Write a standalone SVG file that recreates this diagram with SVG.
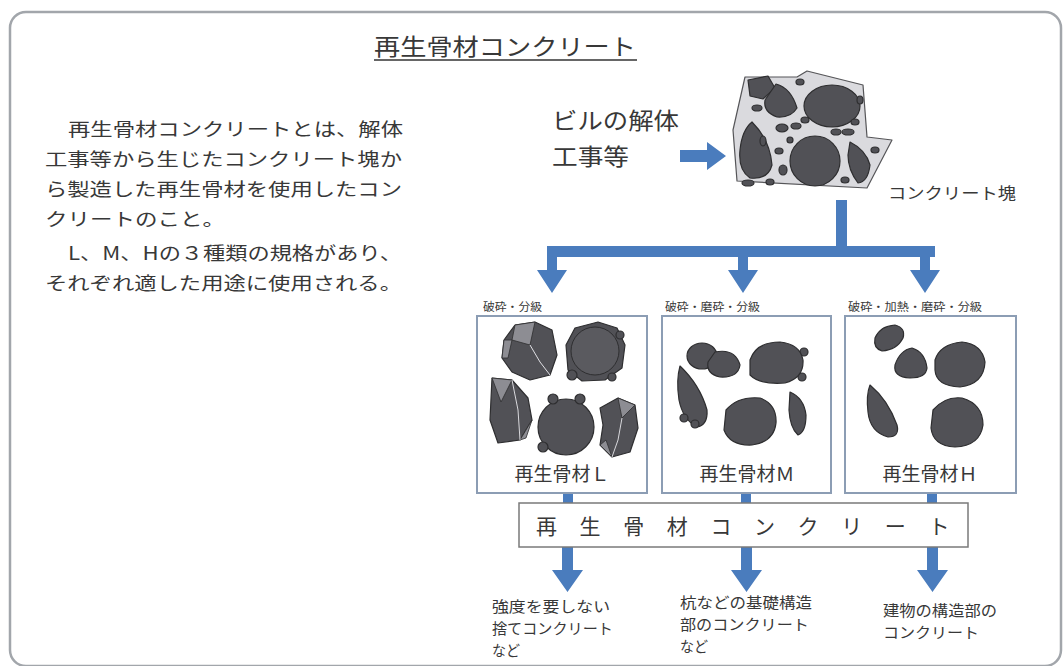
<svg xmlns="http://www.w3.org/2000/svg" width="1064" height="666" viewBox="0 0 1064 666">
  <defs>
    <style>
      .jp { font-family: "Noto Sans CJK JP", "Noto Sans CJK SC", sans-serif; fill: #383838; }
      .frame { fill: #ffffff; stroke: #a2a6ab; stroke-width: 2.5; }
      .gbox { fill: #ffffff; stroke: #8c9db4; stroke-width: 2; }
      .cbox { fill: #ffffff; stroke: #7a7a7a; stroke-width: 1.5; }
      .flow { fill: #4a7cbd; }
      .rock { fill: #515156; stroke: #2e2e30; stroke-width: 1.2; stroke-linejoin: round; }
      .facet { fill: #8d8d93; stroke: #2e2e30; stroke-width: 0.8; }
      .lump { fill: #dadade; stroke: #555558; stroke-width: 1.2; stroke-linejoin: round; }
    </style>
  </defs>

  <!-- outer frame -->
  <rect class="frame" x="10" y="12" width="1051" height="654" rx="16"/>

  <!-- title -->
  <g id="title">
    <text class="jp" x="374" y="55" font-size="23" textLength="262" lengthAdjust="spacingAndGlyphs">再生骨材コンクリート</text>
    <line x1="374" y1="60" x2="637" y2="60" stroke="#333" stroke-width="1.5"/>
  </g>

  <!-- explanation -->
  <g id="description" font-size="18">
    <text class="jp" x="68" y="136" textLength="335" lengthAdjust="spacingAndGlyphs">再生骨材コンクリートとは、解体</text>
    <text class="jp" x="45" y="166" textLength="357" lengthAdjust="spacingAndGlyphs">工事等から生じたコンクリート塊か</text>
    <text class="jp" x="45" y="196" textLength="357" lengthAdjust="spacingAndGlyphs">ら製造した再生骨材を使用したコン</text>
    <text class="jp" x="45" y="226" textLength="180" lengthAdjust="spacingAndGlyphs">クリートのこと。</text>
    <text class="jp" x="68" y="260" textLength="334" lengthAdjust="spacingAndGlyphs">L、M、Hの３種類の規格があり、</text>
    <text class="jp" x="45" y="290" textLength="357" lengthAdjust="spacingAndGlyphs">それぞれ適した用途に使用される。</text>
  </g>

  <!-- source -->
  <g id="source" font-size="23">
    <text class="jp" x="552" y="129" textLength="127" lengthAdjust="spacingAndGlyphs">ビルの解体</text>
    <text class="jp" x="552" y="165" textLength="77" lengthAdjust="spacingAndGlyphs">工事等</text>
  </g>

  <!-- concrete lump -->
  <g id="lump">
    <polygon class="lump" points="745,77 797,77 807,71 863,85 867,137 892,140 867,188 737,181 733,130"/>
    <path class="rock" d="M748,80 L768,76 L775,88 L763,99 L750,96 Z"/>
    <path class="rock" d="M776,84 Q791,88 797,108 Q791,118 777,117 Q763,112 765,100 Z"/>
    <ellipse class="rock" cx="832" cy="106" rx="28" ry="21"/>
    <path class="rock" d="M752,122 Q770,140 772,165 Q768,180 750,178 Q738,170 740,150 Q742,130 752,122 Z"/>
    <circle class="rock" cx="815" cy="161" r="25"/>
    <path class="rock" d="M850,142 Q866,150 870,165 Q868,182 858,183 Q848,170 848,155 Z"/>
    <ellipse class="rock" cx="782" cy="128" rx="6" ry="4"/>
    <ellipse class="rock" cx="796" cy="126" rx="5" ry="3"/>
    <ellipse class="rock" cx="763" cy="141" rx="3" ry="5"/>
    <ellipse class="rock" cx="779" cy="151" rx="4" ry="3"/>
    <ellipse class="rock" cx="783" cy="170" rx="4" ry="5"/>
    <ellipse class="rock" cx="757" cy="108" rx="5" ry="3"/>
    <ellipse class="rock" cx="800" cy="82" rx="4" ry="3"/>
    <ellipse class="rock" cx="860" cy="100" rx="3" ry="4"/>
    <ellipse class="rock" cx="848" cy="132" rx="6" ry="3"/>
    <ellipse class="rock" cx="836" cy="132" rx="5" ry="3"/>
    <ellipse class="rock" cx="855" cy="122" rx="4" ry="3"/>
    <ellipse class="rock" cx="875" cy="150" rx="4" ry="3"/>
    <ellipse class="rock" cx="845" cy="180" rx="4" ry="3"/>
    <ellipse class="rock" cx="748" cy="183" rx="6" ry="3"/>
    <ellipse class="rock" cx="770" cy="182" rx="4" ry="3"/>
    <ellipse class="rock" cx="805" cy="120" rx="4" ry="3"/>
    <ellipse class="rock" cx="790" cy="140" rx="3" ry="3"/>
  </g>
  <text id="lump-label" class="jp" x="888" y="199" font-size="16" textLength="128" lengthAdjust="spacingAndGlyphs">コンクリート塊</text>

  <!-- blue flow connectors -->
  <g id="connectors" class="flow">
    <!-- source to lump -->
    <polygon points="680,150 707,150 707,142 726,156 707,170 707,162 680,162"/>
    <!-- lump to the three grades -->
    <rect x="836" y="200" width="11" height="57"/>
    <rect x="547" y="246" width="388" height="11"/>
    <polygon points="547,257 557,257 557,270 567,270 552,293 537,270 547,270"/>
    <polygon points="738,257 748,257 748,270 758,270 743,293 728,270 738,270"/>
    <polygon points="920,257 930,257 930,270 940,270 925,293 910,270 920,270"/>
    <!-- grades to recycled concrete -->
    <rect x="563" y="492" width="10" height="12"/>
    <rect x="741" y="492" width="10" height="12"/>
    <rect x="927" y="492" width="10" height="12"/>
    <!-- recycled concrete to uses -->
    <polygon points="562,547 573,547 573,570 583,570 567.5,592 552,570 562,570"/>
    <polygon points="741,547 752,547 752,570 762,570 746.5,592 731,570 741,570"/>
    <polygon points="927,547 938,547 938,570 948,570 932.5,592 917,570 927,570"/>
  </g>

  <!-- grade L -->
  <g id="grade-l">
    <text class="jp" x="483" y="311" font-size="11" textLength="59" lengthAdjust="spacingAndGlyphs">破砕・分級</text>
    <rect class="gbox" x="477" y="316" width="170" height="177"/>
    <polygon class="rock" points="504,340 515,325 535,322 552,330 557,355 550,375 530,380 512,372 502,358"/>
    <polygon class="facet" points="515,325 535,322 530,345 512,340"/>
    <polygon class="facet" points="504,340 512,340 508,358 502,358"/>
    <polyline points="530,345 540,362 550,375" fill="none" stroke="#e0e0e4" stroke-width="1"/>
    <polygon class="rock" points="566,345 575,328 598,322 617,328 625,345 622,368 605,380 582,381 568,370"/>
    <circle cx="595" cy="351" r="24" fill="#5a5a5f" stroke="#2e2e30" stroke-width="1"/>
    <circle class="rock" cx="620" cy="335" r="4"/>
    <circle class="rock" cx="572" cy="375" r="5"/>
    <circle class="rock" cx="612" cy="377" r="4"/>
    <polygon class="rock" points="492,378 512,380 528,398 532,420 520,440 498,443 490,420"/>
    <polygon class="facet" points="492,378 512,380 501,402"/>
    <polygon class="facet" points="520,440 532,420 526,438"/>
    <polyline points="512,380 518,410 520,440" fill="none" stroke="#d8d8dc" stroke-width="1"/>
    <circle class="rock" cx="566" cy="427" r="28"/>
    <circle class="rock" cx="553" cy="399" r="5"/>
    <circle class="rock" cx="580" cy="399" r="5"/>
    <circle class="rock" cx="543" cy="447" r="5"/>
    <polygon class="rock" points="600,408 618,398 635,405 638,428 630,452 612,457 600,445 603,425"/>
    <polygon class="facet" points="618,398 635,405 622,418"/>
    <polygon class="facet" points="600,445 612,457 606,440"/>
    <polyline points="622,418 618,440 612,457" fill="none" stroke="#d8d8dc" stroke-width="1"/>
    <text class="jp" x="562" y="481" font-size="19" text-anchor="middle">再生骨材Ｌ</text>
  </g>

  <!-- grade M -->
  <g id="grade-m">
    <text class="jp" x="665" y="311" font-size="11" textLength="95" lengthAdjust="spacingAndGlyphs">破砕・磨砕・分級</text>
    <rect class="gbox" x="662" y="316" width="169" height="177"/>
    <ellipse class="rock" cx="702" cy="356" rx="15" ry="13"/>
    <path class="rock" d="M715,352 Q735,348 740,365 Q738,378 720,377 Q706,374 708,362 Z"/>
    <circle class="rock" cx="804" cy="352" r="4"/>
    <circle class="rock" cx="802" cy="377" r="4"/>
    <path class="rock" d="M750,360 Q756,342 780,342 Q800,344 803,360 Q804,378 785,383 Q760,385 750,375 Z"/>
    <path class="rock" d="M680,366 Q700,385 707,410 Q708,425 697,427 Q683,420 679,400 Q676,380 680,366 Z"/>
    <circle class="rock" cx="684" cy="418" r="4"/>
    <circle class="rock" cx="695" cy="424" r="4"/>
    <path class="rock" d="M726,410 Q738,396 760,398 Q777,404 776,423 Q774,442 752,445 Q730,446 724,430 Z"/>
    <path class="rock" d="M790,392 Q804,398 806,415 Q806,432 798,435 Q790,428 789,410 Z"/>
    <text class="jp" x="747" y="481" font-size="19" text-anchor="middle">再生骨材Ｍ</text>
  </g>

  <!-- grade H -->
  <g id="grade-h">
    <text class="jp" x="848" y="311" font-size="11" textLength="134" lengthAdjust="spacingAndGlyphs">破砕・加熱・磨砕・分級</text>
    <rect class="gbox" x="845" y="316" width="171" height="177"/>
    <path class="rock" d="M875,338 Q880,326 895,325 Q906,328 903,338 Q897,350 882,351 Q873,348 875,338 Z"/>
    <path class="rock" d="M895,365 Q900,350 912,348 Q925,352 927,368 Q926,378 910,378 Q893,377 895,365 Z"/>
    <path class="rock" d="M935,360 Q940,344 962,342 Q982,344 985,362 Q984,384 960,387 Q936,386 935,370 Z"/>
    <path class="rock" d="M870,385 Q888,400 897,425 Q900,437 888,437 Q870,432 868,412 Q866,395 870,385 Z"/>
    <path class="rock" d="M933,410 Q945,396 962,398 Q983,404 983,425 Q980,446 955,447 Q933,446 931,428 Z"/>
    <text class="jp" x="930" y="481" font-size="19" text-anchor="middle">再生骨材Ｈ</text>
  </g>

  <!-- recycled aggregate concrete -->
  <g id="recycled-concrete">
    <rect class="cbox" x="519" y="503" width="449" height="44"/>
    <text class="jp" y="534" font-size="21" x="536 579.6 623.2 666.8 710.4 754 797.6 841.2 884.8 928.4">再生骨材コンクリート</text>
  </g>

  <!-- uses -->
  <g id="use-l" font-size="15">
    <text class="jp" x="492" y="612" textLength="118" lengthAdjust="spacingAndGlyphs">強度を要しない</text>
    <text class="jp" x="492" y="634" textLength="121" lengthAdjust="spacingAndGlyphs">捨てコンクリート</text>
    <text class="jp" x="492" y="656" textLength="28" lengthAdjust="spacingAndGlyphs">など</text>
  </g>
  <g id="use-m" font-size="15">
    <text class="jp" x="680" y="608" textLength="132" lengthAdjust="spacingAndGlyphs">杭などの基礎構造</text>
    <text class="jp" x="680" y="630" textLength="129" lengthAdjust="spacingAndGlyphs">部のコンクリート</text>
    <text class="jp" x="680" y="652" textLength="28" lengthAdjust="spacingAndGlyphs">など</text>
  </g>
  <g id="use-h" font-size="15">
    <text class="jp" x="883" y="616" textLength="114" lengthAdjust="spacingAndGlyphs">建物の構造部の</text>
    <text class="jp" x="883" y="638" textLength="96" lengthAdjust="spacingAndGlyphs">コンクリート</text>
  </g>
</svg>
